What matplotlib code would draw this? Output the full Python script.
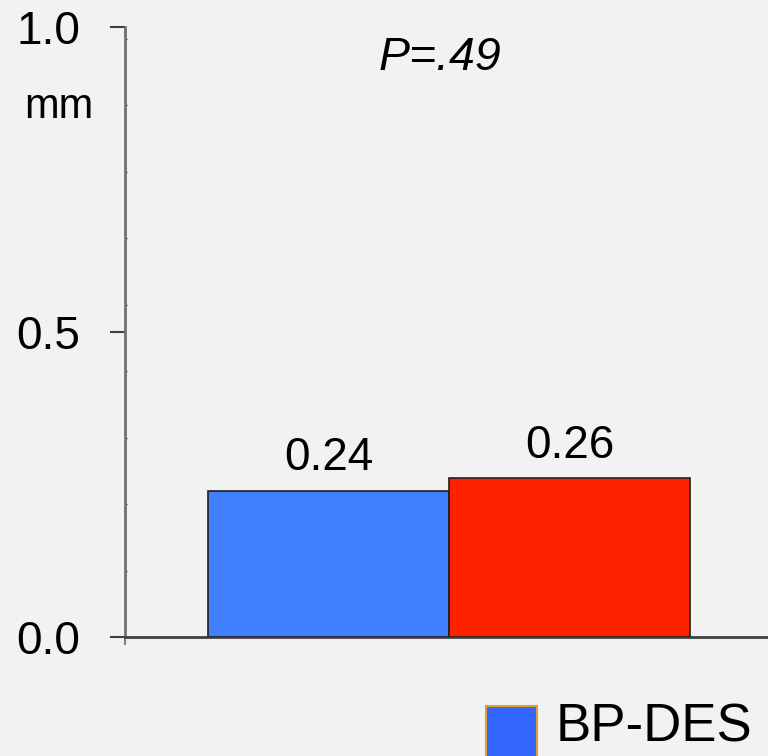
import matplotlib.pyplot as plt
import matplotlib.patches as mpatches
from matplotlib.ticker import MultipleLocator

# data
groups = ['BP-DES', 'other']
values = [0.24, 0.26]
labels = ['0.24', '0.26']
bar_colors = ['#4080FF', '#FF2200']
legend_color = '#3366FF'
p_text = 'P=.49'

plt.rcParams['font.family'] = ['Liberation Sans', 'DejaVu Sans']
bg = '#F2F2F2'

fig = plt.figure(figsize=(7.68, 7.56), dpi=100, facecolor=bg)
ax = fig.add_axes([125/768, 1-637/756, 1-125/768, (637-27)/756])
ax.set_facecolor(bg)

x = [0, 1]
ax.bar(x, values, width=1.0, color=bar_colors, edgecolor='#202020', linewidth=1.2, zorder=3)
for xi, v, lab in zip(x, values, labels):
    ax.text(xi, v + 0.034, lab, ha='center', va='baseline', fontsize=33)

ax.set_ylim(0, 1.0)
ax.set_xlim(-0.844, 1.824)
ax.set_yticks([0, 0.5, 1.0])
ax.set_yticklabels(['0.0', '0.5', '1.0'])
ax.yaxis.set_minor_locator(MultipleLocator(0.109))
ax.tick_params(axis='y', which='major', length=11, width=1.5, color='#404040',
               labelsize=33, pad=21)
ax.tick_params(axis='y', which='minor', direction='in', length=1.5, width=1, color='#404040')
ax.set_xticks([-0.844])
ax.set_xticklabels([''])
ax.tick_params(axis='x', length=6, width=1.5, color='#808080')

for s in ['top', 'right']:
    ax.spines[s].set_visible(False)
ax.spines['left'].set_color('#707070')
ax.spines['left'].set_linewidth(2)
ax.spines['bottom'].set_color('#404040')
ax.spines['bottom'].set_linewidth(2)

fig.text(59/768, 1-118/756, 'mm', ha='center', va='baseline', fontsize=30)
fig.text(440/768, 1-70/756, p_text, ha='center', va='baseline', fontsize=33.5, style='italic')

# legend entry (partly cut off at the bottom edge)
fig.patches.append(mpatches.Rectangle((486/768, -0.02), 51/768, 1-706/756+0.02,
                                      transform=fig.transFigure, facecolor=legend_color,
                                      edgecolor='#E0A030', linewidth=1.5))
fig.text(556/768, 1-742/756, groups[0], ha='left', va='baseline', fontsize=38)

fig.savefig('out.png', dpi=100, facecolor=bg)
